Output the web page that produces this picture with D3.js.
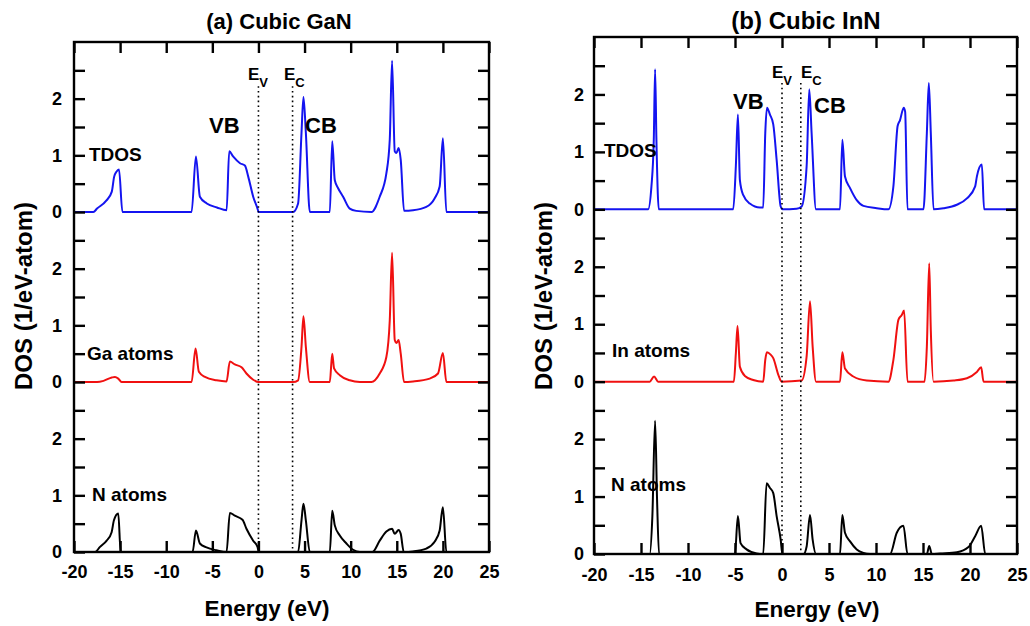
<!DOCTYPE html>
<meta charset="utf-8">
<head>
  <script src="https://d3js.org/d3.v7.min.js"></script>
  <style>
    body { margin: 0; background: #fff; }
    text { font-family: "Liberation Sans", Arial, sans-serif; font-weight: bold; fill: #000; }
  </style>
</head>
<body>
<svg width="1030" height="626"></svg>
<script>
// energy axis ticks (eV)
const xTicks = [-20, -15, -10, -5, 0, 5, 10, 15, 20, 25];
// each sub-plot sits 3 DOS units above the one below it
const stackStep = 3;
const yMax = 9;

// band edges [Ev, Ec]
const ganEdges = [0, 3.7];
const innEdges = [0, 2.0];

// (a) cubic GaN  [energy, DOS]
const ganTdos = [[-20,0],[-17.9,0],[-17.5,0.06],[-16.5,0.2],[-15.9,0.36],[-15.65,0.62],[-15.4,0.71],[-15.12,0.75],[-14.75,0],
  [-7.25,0],[-6.78,0.98],[-6.35,0.27],[-5.6,0.15],[-4.5,0.08],[-3.45,0.03],[-3.17,1.07],[-2.75,0.98],[-2.0,0.86],[-1.47,0.82],
  [-1.1,0.62],[-0.57,0.27],[-0.03,0.02],[0,0],[3.75,0],[4.3,0.15],[4.67,1.4],[4.88,2.03],[5.14,1.4],[5.57,0],[7.74,0],[8.0,1.25],
  [8.28,0.56],[8.64,0.42],[9.18,0.27],[9.9,0.06],[10.6,0.02],[12.25,0],[13.15,0.27],[13.87,0.68],[14.24,1.28],[14.49,2.67],
  [14.78,1.07],[14.96,1.04],[15.2,1.13],[15.43,0.92],[15.79,0.02],[16.76,0.03],[18.2,0.09],[19.1,0.24],[19.65,0.45],[20.0,1.3],
  [20.38,0],[25,0]];
const ganGa = [[-20,0],[-17.5,0],[-16.8,0.02],[-15.9,0.08],[-15.56,0.09],[-15.2,0.06],[-14.84,0],[-7.25,0],[-6.82,0.59],
  [-6.46,0.18],[-5.8,0.09],[-4.54,0.03],[-3.46,0.01],[-3.1,0.36],[-2.56,0.31],[-1.83,0.26],[-1.3,0.15],[-0.57,0.04],[0,0],
  [3.76,0],[4.3,0.03],[4.67,0.62],[4.88,1.16],[5.14,0.62],[5.57,0],[7.74,0],[8.0,0.5],[8.2,0.24],[8.82,0.12],[9.9,0.03],[11.0,0],
  [12.25,0],[13.15,0.15],[13.87,0.44],[14.24,1.09],[14.49,2.28],[14.78,0.74],[14.96,0.69],[15.2,0.74],[15.43,0.5],[15.79,0],
  [16.76,0.01],[18.57,0.06],[19.47,0.15],[20.0,0.51],[20.38,0],[25,0]];
const ganN = [[-20,0],[-17.72,0],[-17.18,0.09],[-16.46,0.2],[-15.92,0.35],[-15.67,0.56],[-15.2,0.68],[-14.94,0],[-7.14,0],
  [-6.78,0.38],[-6.35,0.15],[-5.63,0.08],[-4.54,0.03],[-3.46,0],[-3.1,0.69],[-2.56,0.64],[-1.73,0.57],[-1.3,0.41],[-0.57,0.2],
  [-0.1,0.09],[0.04,0],[4.3,0],[4.67,0.56],[4.88,0.85],[5.14,0.56],[5.57,0],[7.74,0],[8.0,0.73],[8.28,0.47],[8.82,0.29],
  [9.54,0.15],[10.26,0.04],[11.0,0],[12.36,0],[13.15,0.2],[13.87,0.36],[14.49,0.41],[14.78,0.32],[15.2,0.39],[15.43,0.32],
  [15.76,0],[16.76,0.01],[18.2,0.06],[19.1,0.18],[19.65,0.38],[20.0,0.79],[20.38,0],[25,0]];

// (b) cubic InN  [energy, DOS]
const innTdos = [[-20,0],[-14.25,0],[-13.89,0.4],[-13.64,1.21],[-13.5,2.44],[-13.36,1.21],[-13.11,0],[-5.19,0],[-4.91,0.75],
  [-4.69,1.65],[-4.48,0.51],[-4.13,0.25],[-3.42,0.1],[-2.35,0.03],[-2.0,0.03],[-1.78,1.33],[-1.6,1.77],[-1.28,1.65],[-0.93,1.48],
  [-0.57,0.86],[-0.14,0.05],[0.07,0],[1.55,0.01],[2.09,0.05],[2.62,0.75],[2.9,2.09],[3.15,1.33],[3.62,0],[6.17,0],[6.42,1.21],
  [6.7,0.57],[7.24,0.37],[7.95,0.16],[8.66,0.06],[10.08,0.02],[11.32,0],[11.85,0.4],[12.3,1.45],[12.55,1.55],[12.95,1.77],
  [13.1,1.7],[13.35,0],[15.05,0],[15.41,1.33],[15.62,2.2],[15.83,1.33],[16.12,0],[17.18,0.02],[18.6,0.08],[19.67,0.19],
  [20.55,0.4],[20.73,0.57],[21.26,0.78],[21.5,0],[25,0]];
const innIn = [[-20,0],[-14.07,0],[-13.61,0.09],[-13.18,0],[-5.12,0],[-4.91,0.49],[-4.73,0.97],[-4.48,0.26],[-3.95,0.1],
  [-3.06,0.03],[-2.0,0],[-1.78,0.38],[-1.6,0.51],[-1.21,0.47],[-0.93,0.41],[-0.39,0.12],[-0.04,0],[2.09,0.02],[2.62,0.44],
  [2.98,1.4],[3.26,0.61],[3.62,0],[6.17,0],[6.42,0.51],[6.7,0.23],[7.59,0.09],[9.01,0.02],[11.32,0],[11.85,0.38],[12.39,1.08],
  [12.74,1.16],[12.99,1.24],[13.35,0],[15.16,0],[15.41,0.61],[15.66,2.06],[15.83,0.9],[16.12,0],[18.25,0.02],[19.67,0.06],
  [20.73,0.17],[21.19,0.25],[21.44,0],[25,0]];
const innN = [[-20,0],[-14.07,0],[-13.79,0.66],[-13.5,2.32],[-13.29,0.94],[-13.08,0],[-5.01,0],[-4.69,0.66],[-4.41,0.19],
  [-3.77,0.08],[-2.7,0.01],[-2.0,0],[-1.64,1.23],[-1.28,1.15],[-0.93,1.06],[-0.57,0.66],[-0.14,0.25],[0.04,0],[2.3,0],
  [2.62,0.13],[2.98,0.68],[3.26,0.25],[3.62,0],[6.17,0],[6.42,0.68],[6.7,0.37],[7.24,0.22],[7.95,0.08],[8.66,0.02],[9.37,0],
  [11.5,0],[12.21,0.37],[12.92,0.49],[13.35,0],[15.41,0],[15.66,0.14],[15.94,0],[16.83,0.01],[18.6,0.03],[19.84,0.12],
  [20.55,0.31],[21.19,0.49],[21.62,0],[25,0]];

var svg = d3.select("svg");

var panels = [
  { title: "(a) Cubic GaN", titleSize: 22, titleX: 279, x0: 74, x1: 489, y0: 42, y1: 552, edges: ganEdges, edgeTop: 8.22,
    series: [ {data: ganTdos, off: 6, color: "#1414f0"}, {data: ganGa, off: 3, color: "#f01010"}, {data: ganN, off: 0, color: "#000"} ],
    labels: [ {t: "TDOS", x: 89, y: 161}, {t: "Ga atoms", x: 87, y: 360}, {t: "N atoms", x: 92, y: 501} ],
    vb: [209, 133], cb: [305, 133], ev: [248, 80], ec: [284, 80], ylabX: 32, xlabX: 267, xlabY: 616, yPad: 12, xPad: 13 },
  { title: "(b) Cubic InN", titleSize: 24, titleX: 806, x0: 594, x1: 1017, y0: 37, y1: 554, edges: innEdges, edgeTop: 8.2,
    series: [ {data: innTdos, off: 6, color: "#1414f0"}, {data: innIn, off: 3, color: "#f01010"}, {data: innN, off: 0, color: "#000"} ],
    labels: [ {t: "TDOS", x: 604, y: 157}, {t: "In atoms", x: 612, y: 357}, {t: "N atoms", x: 611, y: 491} ],
    vb: [733, 109], cb: [814, 113], ev: [772, 78], ec: [801, 78], ylabX: 552, xlabX: 817, xlabY: 617, yPad: 10, xPad: 14 }
];

panels.forEach(function(p) {
  var x = d3.scaleLinear().domain([-20, 25]).range([p.x0, p.x1]);
  var y = d3.scaleLinear().domain([0, yMax]).range([p.y1, p.y0]);
  var g = svg.append("g");

  // curves
  p.series.forEach(function(s) {
    var line = d3.line().curve(d3.curveMonotoneX).x(d => x(d[0])).y(d => y(d[1] + s.off));
    g.append("path").datum(s.data)
      .attr("d", line)
      .attr("fill", "none")
      .attr("stroke", s.color)
      .attr("stroke-width", 2)
      .attr("stroke-linejoin", "round");
  });

  // Ev / Ec dotted lines
  p.edges.forEach(function(e) {
    g.append("line")
      .attr("x1", x(e)).attr("x2", x(e))
      .attr("y1", y(p.edgeTop)).attr("y2", y(0))
      .attr("stroke", "#000").attr("stroke-width", 1.6)
      .attr("stroke-dasharray", "1.6,3.2");
  });

  // axes: labels outside, tick marks pointing in
  var yVals = d3.range(0.5, yMax, 0.5);
  var yFmt = d => (Number.isInteger(d) ? String(d % stackStep) : "");
  var style = function(sel) {
    sel.select(".domain").remove();
    sel.selectAll(".tick line").attr("stroke", "#000").attr("stroke-width", 2.4);
    sel.selectAll("text").style("font-size", "18px");
  };
  g.append("g").attr("transform", "translate(" + p.x0 + ",0)")
    .call(d3.axisLeft(y).tickValues([0].concat(yVals)).tickFormat(yFmt).tickSizeInner(-11).tickSizeOuter(0).tickPadding(p.yPad))
    .call(style);
  g.append("g").attr("transform", "translate(" + p.x1 + ",0)")
    .call(d3.axisRight(y).tickValues(yVals).tickFormat("").tickSizeInner(-11).tickSizeOuter(0))
    .call(style);
  g.append("g").attr("transform", "translate(0," + p.y1 + ")")
    .call(d3.axisBottom(x).tickValues(xTicks).tickFormat(d => String(d)).tickSizeInner(-11).tickSizeOuter(0).tickPadding(p.xPad))
    .call(style);
  g.append("g").attr("transform", "translate(0," + p.y0 + ")")
    .call(d3.axisTop(x).tickValues(xTicks).tickFormat("").tickSizeInner(-11).tickSizeOuter(0))
    .call(style);

  // frame
  g.append("rect")
    .attr("x", p.x0).attr("y", p.y0)
    .attr("width", p.x1 - p.x0).attr("height", p.y1 - p.y0)
    .attr("fill", "none").attr("stroke", "#000").attr("stroke-width", 2.4);

  // titles and axis labels
  g.append("text").attr("x", p.titleX).attr("y", 29)
    .attr("text-anchor", "middle").style("font-size", p.titleSize + "px").text(p.title);
  g.append("text").attr("transform", "translate(" + p.ylabX + ",296) rotate(-90)")
    .attr("text-anchor", "middle").style("font-size", "24px").text("DOS (1/eV-atom)");
  g.append("text").attr("x", p.xlabX).attr("y", p.xlabY)
    .attr("text-anchor", "middle").style("font-size", "22.5px").text("Energy (eV)");

  // annotations
  p.labels.forEach(function(l) {
    g.append("text").attr("x", l.x).attr("y", l.y).style("font-size", "19px").text(l.t);
  });
  g.append("text").attr("x", p.vb[0]).attr("y", p.vb[1]).style("font-size", "22px").text("VB");
  g.append("text").attr("x", p.cb[0]).attr("y", p.cb[1]).style("font-size", "22px").text("CB");
  [[p.ev, "V"], [p.ec, "C"]].forEach(function(a) {
    var t = g.append("text").attr("x", a[0][0]).attr("y", a[0][1]).style("font-size", "17px");
    t.append("tspan").text("E");
    t.append("tspan").attr("dy", 7).style("font-size", "13px").text(a[1]);
  });
});
</script>
</body>
